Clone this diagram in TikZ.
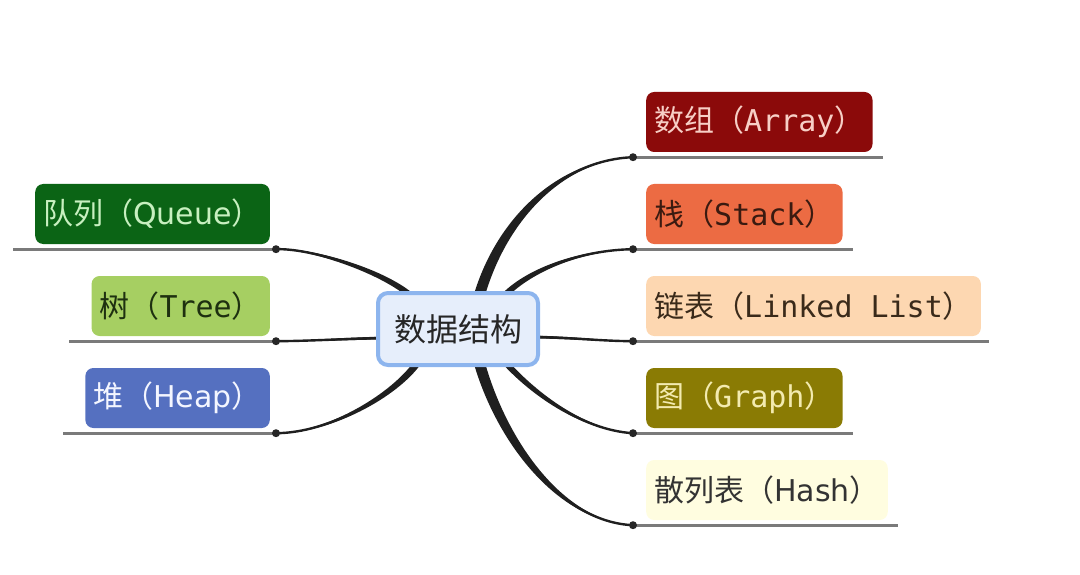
\documentclass[tikz,border=0pt]{standalone}
\usepackage{fontspec}
\newfontfamily\cjk{Noto Sans CJK SC}
\newfontfamily\monof{DejaVu Sans Mono}
\newfontfamily\sansf{DejaVu Sans}
\usetikzlibrary{calc,backgrounds}
\definecolor{cArr}{HTML}{8B0A0A}\definecolor{tArr}{HTML}{F7CFC6}
\definecolor{cStk}{HTML}{EC6B43}\definecolor{tStk}{HTML}{3A1A10}
\definecolor{cLnk}{HTML}{FDD7B1}\definecolor{tLnk}{HTML}{3A2A1A}
\definecolor{cGra}{HTML}{8A7B04}\definecolor{tGra}{HTML}{F3EBB0}
\definecolor{cHas}{HTML}{FFFDE0}\definecolor{tHas}{HTML}{333333}
\definecolor{cQue}{HTML}{0B6415}\definecolor{tQue}{HTML}{C8F0C0}
\definecolor{cTre}{HTML}{A6CF62}\definecolor{tTre}{HTML}{1E3010}
\definecolor{cHea}{HTML}{5570C0}\definecolor{tHea}{HTML}{F4F6FF}
\definecolor{cCen}{HTML}{E6EEFB}\definecolor{bCen}{HTML}{8DB5EE}
\definecolor{uGray}{HTML}{7A7A7A}
\newcommand{\taper}[5]{%
  \coordinate (tA) at ($#1!#5!90:#2$);
  \coordinate (tB) at ($#1!#5!-90:#2$);
  \fill[branch] (tA) .. controls ($#2+0.9*(tA)-0.9*#1$) and ($#3+0.45*(tA)-0.45*#1$) .. #4
     .. controls ($#3+0.45*(tB)-0.45*#1$) and ($#2+0.9*(tB)-0.9*#1$) .. (tB) -- cycle;
  \draw[branchline] #1 .. controls #2 and #3 .. #4;
}
\begin{document}
\begin{tikzpicture}[x=1pt,y=-1pt,
  box/.style={rounded corners=8, minimum height=60, inner xsep=8, inner ysep=0,
    font=\fontsize{30}{36}\selectfont},
  branch/.style={fill=black!88},
  branchline/.style={draw=black!88, line width=2.4},
  uline/.style={draw=uGray, line width=3},
  dotc/.style={fill=black!85}]
\path[use as bounding box] (0,0) rectangle (1080,575);
% center
\node[draw=bCen, fill=cCen, line width=4, rounded corners=10, minimum width=160,
  minimum height=72, inner sep=0, font=\fontsize{32}{38}\selectfont\cjk, text=black!85]
  (ds) at (458,329) {数据结构};
% right nodes
\node[box, anchor=west, fill=cArr, text=tArr] (arr) at (646,122) {\cjk 数组（\monof Array\cjk ）};
\node[box, anchor=west, fill=cStk, text=tStk] (stk) at (646,214) {\cjk 栈（\monof Stack\cjk ）};
\node[box, anchor=west, fill=cLnk, text=tLnk] (lnk) at (646,306) {\cjk 链表（\monof Linked List\cjk ）};
\node[box, anchor=west, fill=cGra, text=tGra] (gra) at (646,398) {\cjk 图（\monof Graph\cjk ）};
\node[box, anchor=west, fill=cHas, text=tHas] (has) at (646,490) {\cjk 散列表（\sansf Hash\cjk ）};
% left nodes
\node[box, anchor=east, fill=cQue, text=tQue] (que) at (270,214) {\cjk 队列（\sansf Queue\cjk ）};
\node[box, anchor=east, fill=cTre, text=tTre] (tre) at (270,306) {\cjk 树（\monof Tree\cjk ）};
\node[box, anchor=east, fill=cHea, text=tHea] (hea) at (270,398) {\cjk 堆（\sansf Heap\cjk ）};
% end points (dots) and underline ends
\foreach \n in {arr,stk,gra,has}{
  \coordinate (d\n) at ($(\n.south west)+(-13,5)$);
  \coordinate (e\n) at ($(\n.south east)+(10,5)$);
}
\coordinate (dlnk) at ($(lnk.south west)+(-13,5)$);
\coordinate (elnk) at ($(lnk.south east)+(8,5)$);
\foreach \n in {que,tre,hea}{
  \coordinate (d\n) at ($(\n.south east)+(6,5)$);
  \coordinate (e\n) at ($(\n.south west)+(-22,5)$);
}
\foreach \n in {arr,stk,lnk,gra,has,que,tre,hea}{
  \draw[uline] (d\n) -- (e\n);
}
\begin{pgfonlayer}{background}
\coordinate (sarr) at ($(ds)+(20,-29)$);
\coordinate (sstk) at ($(ds)+(47,-34)$);
\coordinate (slnk) at ($(ds)+(77,8)$);
\coordinate (sgra) at ($(ds)+(47,33)$);
\coordinate (shas) at ($(ds)+(20,29)$);
\coordinate (sque) at ($(ds)+(-48,-34)$);
\coordinate (stre) at ($(ds)+(-76,9)$);
\coordinate (shea) at ($(ds)+(-40,33)$);
\taper{(sarr)}{(500,220)}{(560,160)}{(darr)}{5.5pt}
\taper{(sstk)}{(530,270)}{(580,250)}{(dstk)}{3pt}
\taper{(slnk)}{(580,338)}{(600,341)}{(dlnk)}{1.4pt}
\taper{(sgra)}{(530,390)}{(580,430)}{(dgra)}{3pt}
\taper{(shas)}{(500,440)}{(560,522)}{(dhas)}{5.5pt}
\taper{(sque)}{(380,270)}{(310,248)}{(dque)}{3pt}
\taper{(stre)}{(340,339)}{(310,341)}{(dtre)}{1.4pt}
\taper{(shea)}{(395,395)}{(330,433)}{(dhea)}{3.5pt}
\end{pgfonlayer}
\foreach \n in {arr,stk,lnk,gra,has,que,tre,hea}{
  \fill[dotc] (d\n) circle (4);
}
\end{tikzpicture}
\end{document}
